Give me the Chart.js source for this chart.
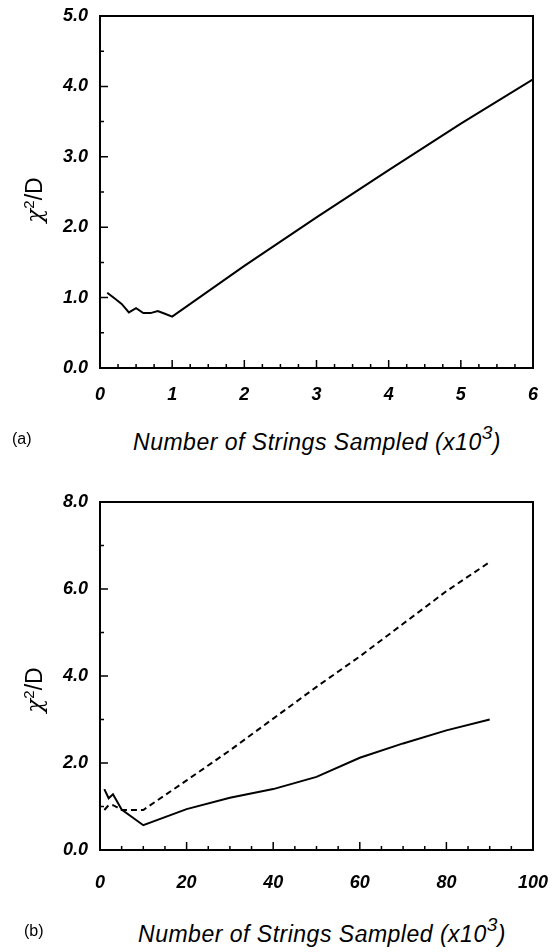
<!DOCTYPE html>
<html>
<head>
<meta charset="utf-8">
<script src="https://cdn.jsdelivr.net/npm/chart.js@4.4.1/dist/chart.umd.min.js"></script>
<style>
  body { margin: 0; background: #fff; width: 553px; height: 952px; position: relative; overflow: hidden; }
  .wrap { position: absolute; left: 0; width: 553px; }
  .lbl { position: absolute; font-family: "Liberation Sans", Arial, sans-serif; color: #000; white-space: nowrap; }
  .xtitle { font-style: italic; font-size: 23px; letter-spacing: 0.5px; transform: translateX(-50%); }
  .xtitle sup { font-size: 19px; position: relative; top: -2px; }
  .ytitle { font-size: 23px; transform: translate(-50%, -50%) rotate(-90deg); }
  .ytitle .chi { font-family: "DejaVu Serif", serif; font-style: italic; }
  .ytitle sup { font-size: 15px; }
  .panel { font-size: 16px; }
</style>
</head>
<body>
<div class="wrap" style="top:0;height:420px"><canvas id="chartA"></canvas></div>
<div class="wrap" style="top:470px;height:430px"><canvas id="chartB"></canvas></div>

<div class="lbl ytitle" style="left:34px;top:200px"><span class="chi">χ</span><sup>2</sup>/D</div>
<div class="lbl panel" style="left:12px;top:430px">(a)</div>
<div class="lbl xtitle" style="left:317px;top:424px">Number of Strings Sampled (x10<sup>3</sup>)</div>

<div class="lbl ytitle" style="left:34px;top:690px"><span class="chi">χ</span><sup>2</sup>/D</div>
<div class="lbl panel" style="left:24px;top:922px">(b)</div>
<div class="lbl xtitle" style="left:322px;top:916px">Number of Strings Sampled (x10<sup>3</sup>)</div>

<script>
// Panel (a): chi^2/D vs strings sampled (x10^3)
const topX = [0.1, 0.2, 0.3, 0.4, 0.5, 0.6, 0.7, 0.8, 0.9, 1.0, 2, 3, 4, 5, 6];
const topY = [1.07, 0.99, 0.91, 0.79, 0.85, 0.78, 0.78, 0.81, 0.77, 0.73, 1.45, 2.14, 2.81, 3.47, 4.10];

// Panel (b): solid and dashed curves
const solidX = [1, 2, 3, 5, 10, 20, 30, 40, 50, 60, 70, 80, 90];
const solidY = [1.40, 1.19, 1.28, 0.93, 0.57, 0.94, 1.20, 1.40, 1.68, 2.12, 2.45, 2.75, 3.00];
const dashX = [1, 2, 3, 4, 5, 10, 20, 30, 40, 50, 60, 70, 80, 90];
const dashY = [0.92, 1.03, 1.03, 0.98, 0.92, 0.92, 1.60, 2.29, 3.02, 3.75, 4.45, 5.20, 5.95, 6.62];

const tickFont = { family: '"Liberation Sans", Arial, sans-serif', size: 18, weight: 'bold', style: 'italic' };

function toPoints(xs, ys) {
    return xs.map((x, i) => ({ x: x, y: ys[i] }));
}

// Draws the frame plus inward ticks (long on labelled values, short otherwise)
const frameTicks = {
    id: 'frameTicks',
    afterDraw(chart, args, opts) {
        const ctx = chart.ctx;
        const a = chart.chartArea;
        ctx.save();
        ctx.strokeStyle = '#000';
        ctx.lineWidth = 2;
        ctx.strokeRect(a.left, a.top, a.right - a.left, a.bottom - a.top);
        ctx.lineWidth = 1.5;
        ctx.beginPath();
        chart.scales.x.ticks.forEach(t => {
            const px = chart.scales.x.getPixelForValue(t.value);
            const len = Math.abs(t.value % opts.xMajor) < 1e-9 ? 8 : 4;
            ctx.moveTo(px, a.bottom);
            ctx.lineTo(px, a.bottom - len);
        });
        chart.scales.y.ticks.forEach(t => {
            const py = chart.scales.y.getPixelForValue(t.value);
            const len = Math.abs(t.value % opts.yMajor) < 1e-9 ? 8 : 4;
            ctx.moveTo(a.left, py);
            ctx.lineTo(a.left + len, py);
        });
        ctx.stroke();
        ctx.restore();
    }
};

function makeChart(id, datasets, xr, yr, topPad, xAxisH, xPad) {
    return new Chart(document.getElementById(id), {
        type: 'line',
        data: { datasets: datasets },
        options: {
            responsive: true,
            maintainAspectRatio: false,
            animation: false,
            layout: { padding: { top: topPad, right: 20, left: 0, bottom: 0 } },
            plugins: {
                legend: { display: false },
                tooltip: { enabled: false },
                frameTicks: { xMajor: xr.major, yMajor: yr.major }
            },
            elements: { point: { radius: 0 } },
            scales: {
                x: {
                    type: 'linear',
                    min: xr.min, max: xr.max,
                    grid: { display: false },
                    border: { display: false },
                    afterFit: s => { s.height = xAxisH; s.paddingLeft = 0; s.paddingRight = 0; },
                    ticks: {
                        stepSize: xr.step,
                        autoSkip: false,
                        maxRotation: 0,
                        padding: xPad,
                        color: '#000',
                        font: tickFont,
                        callback: v => Math.abs(v % xr.major) < 1e-9 ? String(v) : ''
                    }
                },
                y: {
                    min: yr.min, max: yr.max,
                    grid: { display: false },
                    border: { display: false },
                    afterFit: s => { s.width = 100; s.paddingTop = 0; s.paddingBottom = 0; },
                    ticks: {
                        stepSize: yr.step,
                        autoSkip: false,
                        padding: 4,
                        color: '#000',
                        font: tickFont,
                        callback: v => Math.abs(v % yr.major) < 1e-9 ? v.toFixed(1) : ''
                    }
                }
            }
        },
        plugins: [frameTicks]
    });
}

makeChart('chartA', [
    { data: toPoints(topX, topY), borderColor: '#000', borderWidth: 2, tension: 0, fill: false }
], { min: 0, max: 6, step: 0.25, major: 1 }, { min: 0, max: 5, step: 0.5, major: 1 }, 16, 52, 8);

makeChart('chartB', [
    { data: toPoints(solidX, solidY), borderColor: '#000', borderWidth: 2, tension: 0, fill: false },
    { data: toPoints(dashX, dashY), borderColor: '#000', borderWidth: 2, borderDash: [6, 4], tension: 0, fill: false }
], { min: 0, max: 100, step: 5, major: 20 }, { min: 0, max: 8, step: 1, major: 2 }, 32, 50, 14);
</script>
</body>
</html>
